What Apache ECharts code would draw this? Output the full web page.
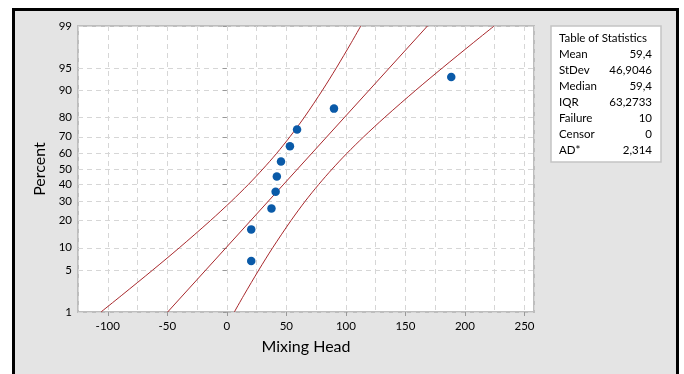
<!DOCTYPE html>
<html>
<head>
<meta charset="utf-8">
<script src="https://cdn.jsdelivr.net/npm/echarts@6/dist/echarts.min.js"></script>
<style>
html,body{margin:0;padding:0;background:#ffffff;}
#chart{width:684px;height:374px;}
</style>
</head>
<body>
<div id="chart"></div>
<script>
// ---- data ----
const pointX = [20.5, 20.5, 37.5, 41, 42, 45.5, 53, 59, 90, 188.5];
const pointPct = [6.7, 16.3, 26.0, 35.6, 45.2, 54.8, 64.4, 74.0, 83.7, 93.3];
const fitPct = [1, 99];
const fitX = [-49.7, 168.5];
const bandPct = [1, 2, 5, 10, 20, 30, 40, 50, 60, 70, 80, 90, 95, 98, 99];
const bandLow = [-105.7, -88.2, -62.3, -39.9, -13.9, 3.8, 18.0, 30.3, 41.8, 53.0, 65.1, 80.3, 92.0, 104.5, 112.5];
const bandHigh = [6.3, 14.3, 26.8, 38.5, 53.8, 65.8, 77.1, 88.5, 100.8, 115.0, 132.7, 158.7, 181.1, 207.0, 224.5];
const yTickPct = [1, 5, 10, 20, 30, 40, 50, 60, 70, 80, 90, 95, 99];
const xTickLabels = [-100, -50, 0, 50, 100, 150, 200, 250];
const statNames = ['Mean', 'StDev', 'Median', 'IQR', 'Failure', 'Censor', 'AD*'];
const statValues = ['59,4', '46,9046', '59,4', '63,2733', '10', '0', '2,314'];

// normal probability scale transform
function norminv(p){
  const a=[-3.969683028665376e+01,2.209460984245205e+02,-2.759285104469687e+02,1.383577518672690e+02,-3.066479806614716e+01,2.506628277459239e+00];
  const b=[-5.447609879822406e+01,1.615858368580409e+02,-1.556989798598866e+02,6.680131188771972e+01,-1.328068155288572e+01];
  const c=[-7.784894002430293e-03,-3.223964580411365e-01,-2.400758277161838e+00,-2.549732539343734e+00,4.374664141464968e+00,2.938163982698783e+00];
  const d=[7.784695709041462e-03,3.224671290700398e-01,2.445134137142996e+00,3.754408661907416e+00];
  const pl=0.02425, ph=1-pl; let q,r;
  if(p<pl){q=Math.sqrt(-2*Math.log(p));return (((((c[0]*q+c[1])*q+c[2])*q+c[3])*q+c[4])*q+c[5])/((((d[0]*q+d[1])*q+d[2])*q+d[3])*q+1);}
  if(p<=ph){q=p-0.5;r=q*q;return (((((a[0]*r+a[1])*r+a[2])*r+a[3])*r+a[4])*r+a[5])*q/(((((b[0]*r+b[1])*r+b[2])*r+b[3])*r+b[4])*r+1);}
  q=Math.sqrt(-2*Math.log(1-p));return -(((((c[0]*q+c[1])*q+c[2])*q+c[3])*q+c[4])*q+c[5])/((((d[0]*q+d[1])*q+d[2])*q+d[3])*q+1);
}
const Z = p => norminv(p/100);
const yTickZ = yTickPct.map(Z);
const zMin = Z(1), zMax = Z(99);

const lineColor = '#a8282c';
const font = 'Lato, "Noto Sans", sans-serif';
const gridColor = '#d6d6d6';
const textColor = '#000';

const chart = echarts.init(document.getElementById('chart'), null, {renderer:'canvas'});

const statGraphics = [];
statGraphics.push({type:'rect', z:5, shape:{x:551, y:26, width:110, height:136}, style:{fill:'#ffffff', stroke:'#c4c4c4', lineWidth:1.5}});
statGraphics.push({type:'text', z:6, x:559, y:38, style:{text:'Table of Statistics', font:'11.5px '+font, fill:textColor, textVerticalAlign:'middle'}});
statNames.forEach((n,i)=>{
  const yy = 54 + i*16;
  statGraphics.push({type:'text', z:6, x:559, y:yy, style:{text:n, font:'11.5px '+font, fill:textColor, textVerticalAlign:'middle'}});
  statGraphics.push({type:'text', z:6, x:652, y:yy, style:{text:statValues[i], font:'11.5px '+font, fill:textColor, textAlign:'right', textVerticalAlign:'middle'}});
});

const option = {
  backgroundColor: '#ffffff',
  animation: false,
  graphic: [
    {type:'rect', z:-1, shape:{x:13.5, y:9.5, width:664, height:400}, style:{fill:'#e4e4e4', stroke:'#000', lineWidth:3}}
  ].concat(statGraphics),
  grid: {left:78, top:26, right:150, bottom:62, show:true, backgroundColor:'#ffffff', borderColor:'#bdbdbd', borderWidth:2},
  xAxis: [
    {type:'value', min:-125, max:258, interval:25,
     axisLine:{show:false}, axisTick:{show:false}, axisLabel:{show:false},
     splitLine:{show:true, lineStyle:{color:gridColor, type:[5,4], width:1}}},
    {type:'value', min:-125, max:258, position:'bottom',
     name:'Mixing Head', nameLocation:'middle', nameGap:27,
     nameTextStyle:{fontFamily:font, fontSize:16, color:textColor},
     axisLine:{show:false},
     axisTick:{show:true, length:4, customValues:xTickLabels, lineStyle:{color:'#999'}},
     axisLabel:{show:true, customValues:xTickLabels, margin:8, fontFamily:font, fontSize:11.5, color:textColor},
     splitLine:{show:false}}
  ],
  yAxis: {
    type:'value', min:zMin, max:zMax,
    name:'Percent', nameLocation:'middle', nameGap:30,
    nameTextStyle:{fontFamily:font, fontSize:16, color:textColor},
    axisLine:{show:false},
    axisTick:{show:true, length:4, customValues:yTickZ, lineStyle:{color:'#999'}},
    axisLabel:{show:true, customValues:yTickZ, margin:6, fontFamily:font, fontSize:11.5, color:textColor,
      formatter: v => { for (let i=0;i<yTickZ.length;i++){ if (Math.abs(yTickZ[i]-v)<1e-6) return String(yTickPct[i]); } return ''; }},
    splitLine:{show:true, lineStyle:{color:gridColor, type:[5,4], width:1}}
  },
  series: [
    {type:'line', xAxisIndex:0, data: bandPct.map((p,i)=>[bandLow[i], Z(p)]), smooth:0.3, showSymbol:false,
     lineStyle:{color:lineColor, width:1}, z:3},
    {type:'line', xAxisIndex:0, data: bandPct.map((p,i)=>[bandHigh[i], Z(p)]), smooth:0.3, showSymbol:false,
     lineStyle:{color:lineColor, width:1}, z:3},
    {type:'line', xAxisIndex:0, data: fitPct.map((p,i)=>[fitX[i], Z(p)]), showSymbol:false,
     lineStyle:{color:lineColor, width:1}, z:3},
    {type:'scatter', xAxisIndex:0, data: pointPct.map((p,i)=>[pointX[i], Z(p)]), symbol:'circle', symbolSize:8.5,
     itemStyle:{color:'#0a5aa8', opacity:1}, z:4}
  ]
};
chart.setOption(option);
</script>
</body>
</html>
